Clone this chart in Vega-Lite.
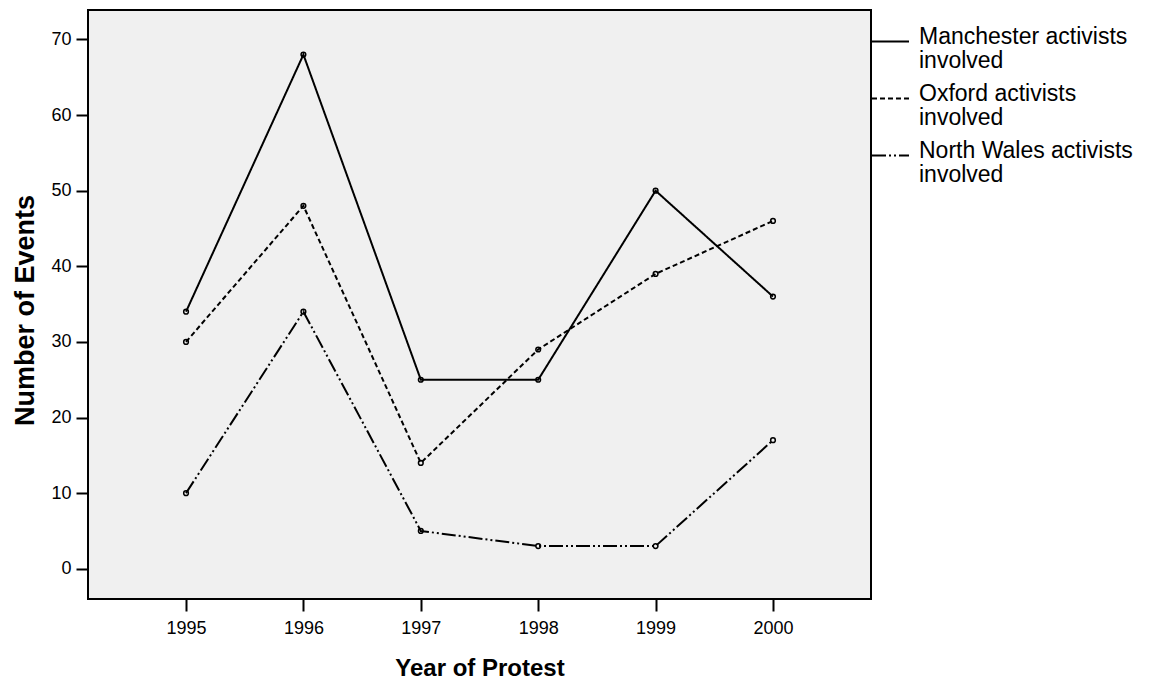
{
  "$schema": "https://vega.github.io/schema/vega-lite/v6.json",
  "width": 783,
  "height": 589,
  "autosize": "none",
  "padding": {"left": 88, "top": 10, "right": 280, "bottom": 81},
  "background": "white",
  "config": {
    "font": "Liberation Sans",
    "view": {"fill": "#f0f0f0", "stroke": "black", "strokeWidth": 2},
    "axis": {
      "domain": false, "grid": false, "tickColor": "black", "tickWidth": 2, "tickSize": 12,
      "labelFont": "Liberation Sans", "labelFontSize": 18, "labelColor": "black",
      "titleFont": "Liberation Sans", "titleFontWeight": "bold", "titleColor": "black"
    }
  },
  "data": {
    "values": [
      {"year": 1995, "series": "Manchester activists involved", "events": 34},
      {"year": 1996, "series": "Manchester activists involved", "events": 68},
      {"year": 1997, "series": "Manchester activists involved", "events": 25},
      {"year": 1998, "series": "Manchester activists involved", "events": 25},
      {"year": 1999, "series": "Manchester activists involved", "events": 50},
      {"year": 2000, "series": "Manchester activists involved", "events": 36},
      {"year": 1995, "series": "Oxford activists involved", "events": 30},
      {"year": 1996, "series": "Oxford activists involved", "events": 48},
      {"year": 1997, "series": "Oxford activists involved", "events": 14},
      {"year": 1998, "series": "Oxford activists involved", "events": 29},
      {"year": 1999, "series": "Oxford activists involved", "events": 39},
      {"year": 2000, "series": "Oxford activists involved", "events": 46},
      {"year": 1995, "series": "North Wales activists involved", "events": 10},
      {"year": 1996, "series": "North Wales activists involved", "events": 34},
      {"year": 1997, "series": "North Wales activists involved", "events": 5},
      {"year": 1998, "series": "North Wales activists involved", "events": 3},
      {"year": 1999, "series": "North Wales activists involved", "events": 3},
      {"year": 2000, "series": "North Wales activists involved", "events": 17}
    ]
  },
  "encoding": {
    "x": {
      "field": "year", "type": "quantitative",
      "scale": {"domain": [1994.165, 2000.835], "nice": false, "zero": false},
      "axis": {"values": [1995, 1996, 1997, 1998, 1999, 2000], "format": "d", "labelPadding": 8, "title": "Year of Protest", "titleFontSize": 24, "titlePadding": 19}
    },
    "y": {
      "field": "events", "type": "quantitative",
      "scale": {"domain": [-4, 73.9], "nice": false, "zero": false},
      "axis": {"values": [0, 10, 20, 30, 40, 50, 60, 70], "labelPadding": 5, "title": "Number of Events", "titleFontSize": 27, "titlePadding": 11, "titleY": 300}
    }
  },
  "layer": [
    {
      "mark": {"type": "line", "color": "black", "strokeWidth": 2},
      "encoding": {
        "strokeDash": {
          "field": "series", "type": "nominal",
          "scale": {
            "domain": ["Manchester activists involved", "Oxford activists involved", "North Wales activists involved"],
            "range": [[1, 0], [5, 3], [14, 3, 2, 3, 2, 3]]
          },
          "legend": {
            "title": null,
            "orient": "none",
            "legendX": 783,
            "legendY": 12,
            "symbolType": "stroke",
            "symbolSize": 1369,
            "symbolStrokeWidth": 2,
            "symbolStrokeColor": "black",
            "labelFont": "Liberation Sans",
            "labelFontSize": 23,
            "labelColor": "black",
            "labelOffset": 9,
            "labelLimit": 400,
            "labelBaseline": "middle",
            "rowPadding": 6,
            "labelExpr": "datum.label == 'Manchester activists involved' ? ['Manchester activists', 'involved'] : datum.label == 'Oxford activists involved' ? ['Oxford activists', 'involved'] : ['North Wales activists', 'involved']",
            "encode": {"labels": {"update": {"lineHeight": {"value": 24}, "dy": {"value": -5}}}}
          }
        }
      }
    },
    {
      "mark": {"type": "point", "shape": "circle", "filled": false, "color": "black", "strokeWidth": 1.5, "size": 22, "opacity": 1},
      "encoding": {"detail": {"field": "series", "type": "nominal"}}
    }
  ]
}
